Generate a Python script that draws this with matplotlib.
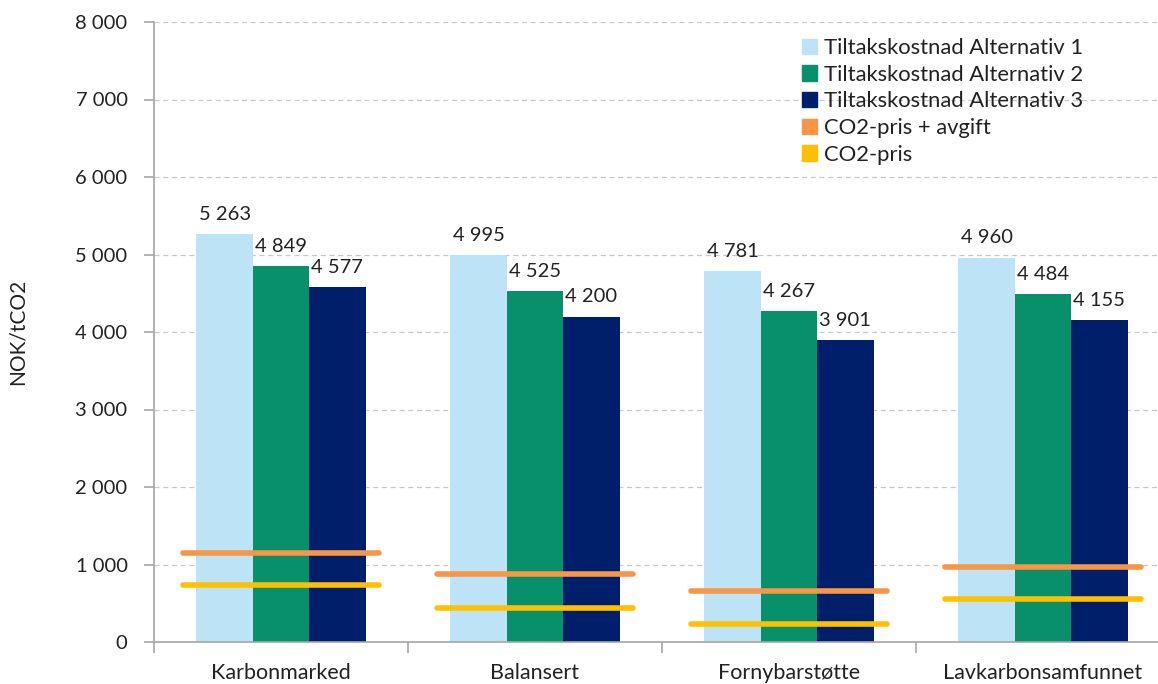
import numpy as np
import matplotlib.pyplot as plt
from matplotlib.patches import Patch
from matplotlib.ticker import FuncFormatter, FixedLocator

plt.rcParams['font.family'] = ['Lato', 'DejaVu Sans']

scenarios = ['Karbonmarked', 'Balansert', 'Fornybarstøtte', 'Lavkarbonsamfunnet']
alt1 = [5263, 4995, 4781, 4960]
alt2 = [4849, 4525, 4267, 4484]
alt3 = [4577, 4200, 3901, 4155]
co2_avgift = [1150, 875, 660, 970]
co2_pris = [735, 445, 230, 550]

series_names = ['Tiltakskostnad Alternativ 1', 'Tiltakskostnad Alternativ 2',
                'Tiltakskostnad Alternativ 3']
bar_colors = ['#BDE3F7', '#08906B', '#001F6B']
c_orange = '#F79646'
c_yellow = '#FFC000'

W, H = 1158, 684
fig = plt.figure(figsize=(W / 100, H / 100), dpi=100)
# right edge of the plot area runs past the image border, as in the reference
aw = 1170 - 154
ax = fig.add_axes([154 / W, 1 - 642 / H, aw / W, (642 - 22) / H])

x = np.arange(len(scenarios))
bw = 0.222
for k, (vals, col, name) in enumerate(zip([alt1, alt2, alt3], bar_colors, series_names)):
    pos = x + (k - 1) * bw
    ax.bar(pos, vals, width=bw, color=col, zorder=2)
    for p, v in zip(pos, vals):
        ax.annotate(f'{v:,}'.replace(',', ' '), (p, v), xytext=(0, 8),
                    textcoords='offset points', ha='center', va='bottom',
                    fontsize=14.5, color='#222222')

half = 0.387
for xs, v in zip(x, co2_avgift):
    ax.plot([xs - half, xs + half], [v, v], color=c_orange, lw=4,
            solid_capstyle='round', zorder=3)
for xs, v in zip(x, co2_pris):
    ax.plot([xs - half, xs + half], [v, v], color=c_yellow, lw=4,
            solid_capstyle='round', zorder=3)

ax.set_xlim(-0.5, len(scenarios) - 0.5)
ax.set_ylim(0, 8000)
ax.set_yticks(np.arange(0, 8001, 1000))
ax.yaxis.set_major_formatter(FuncFormatter(lambda v, p: f'{int(v):,}'.replace(',', ' ')))
ax.grid(axis='y', color='#C8C8C8', linestyle=(0, (4, 3)), lw=0.9, zorder=0)

ax.set_xticks(x)
ax.set_xticklabels(scenarios, fontsize=15.5)
ax.tick_params(axis='x', length=0, pad=15, labelcolor='#222222')
ax.xaxis.set_minor_locator(FixedLocator(np.arange(-0.5, len(scenarios), 1.0)))
ax.tick_params(axis='x', which='minor', length=8, color='#A6A6A6', width=1.2)
ax.tick_params(axis='y', length=7, color='#A6A6A6', width=1.2, labelsize=14.5,
               pad=12, labelcolor='#222222')

for s in ['top', 'right']:
    ax.spines[s].set_visible(False)
for s in ['left', 'bottom']:
    ax.spines[s].set_color('#A6A6A6')
    ax.spines[s].set_linewidth(1.2)

ax.set_ylabel('NOK/tCO2', fontsize=15, color='#222222')
ax.yaxis.set_label_coords(-126 / aw, 0.5)

handles = [Patch(color=c) for c in bar_colors] + [Patch(color=c_orange), Patch(color=c_yellow)]
labels = series_names + ['CO2-pris + avgift', 'CO2-pris']
leg = ax.legend(handles, labels, loc='upper left', bbox_to_anchor=((793 - 154) / aw, 0.988),
                frameon=False, fontsize=15.8, handlelength=0.7, handleheight=0.7,
                handletextpad=0.3, labelspacing=0.3, borderaxespad=0)
for t in leg.get_texts():
    t.set_color('#222222')

fig.savefig('out.png', dpi=100)
